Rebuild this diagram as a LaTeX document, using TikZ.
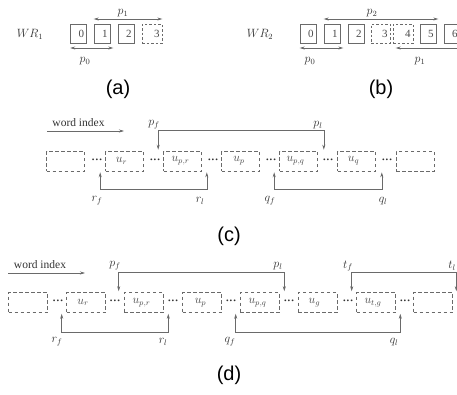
\documentclass[tikz,border=0pt]{standalone}
\usepackage{fontspec}
\setmainfont{Liberation Serif}
\newfontfamily\capfont{Liberation Sans}
\usetikzlibrary{arrows.meta}
\definecolor{lc}{HTML}{6A6A6A}
\definecolor{tc}{HTML}{333333}
\definecolor{bt}{HTML}{4A4A4A}
\newcommand{\mydots}{{\bfseries\char"00B7\char"00B7\char"00B7}}
\tikzset{
  lin/.style={draw=lc, line width=0.6pt},
  darr/.style={lin, {Stealth[length=5pt,width=3pt]}-{Stealth[length=5pt,width=3pt]}},
  sarr/.style={lin, -{Stealth[length=5pt,width=3pt]}},
  nbox/.style={draw=lc, line width=0.6pt, minimum height=19pt, text width=11pt, align=right,
    inner xsep=2.5pt, inner ysep=0pt, text=bt, font=\fontsize{11}{12}\selectfont},
  dnbox/.style={nbox, dash pattern=on 2.5pt off 2pt},
  ubox/.style={draw=lc, line width=0.6pt, dash pattern=on 3.5pt off 2.5pt, minimum width=38pt,
    minimum height=20pt, inner sep=0pt, text=bt, font=\fontsize{12}{13}\selectfont},
  dotstxt/.style={inner sep=0pt, text=tc, font=\fontsize{11}{12}\selectfont},
  lbl/.style={inner sep=0pt, text=tc, font=\fontsize{12}{13}\selectfont},
  wtxt/.style={inner sep=0pt, text=tc, font=\fontsize{11.5}{13}\selectfont},
  captxt/.style={inner sep=0pt, text=black, font=\capfont\fontsize{20}{22}\selectfont}
}
\begin{document}
\begin{tikzpicture}[x=1pt,y=-1pt]
\clip (0,0) rectangle (457,394);
\fill[white] (0,0) rectangle (457,394);

% ---------------- (a)
\node[lbl] (wr1) at (30,34) {$WR_1$};
\node[nbox] (a0) at (78.5,33.5) {0};
\node[nbox] (a1) at (102,33.5) {1};
\node[nbox] (a2) at (126,33.5) {2};
\node[dnbox,text width=15pt] (a3) at (152,33.5) {3};
\draw[darr] (a1.west |- 0,19) -- (a3.east |- 0,19);
\draw[darr] (a0.west |- 0,48) -- ([xshift=3pt]a1.east |- 0,48);
\node[lbl] (ap1) at (123,13) {$p_1$};
\node[lbl] (ap0) at (85,61) {$p_0$};
\node[captxt] (capa) at (118,89) {(a)};

% ---------------- (b)
\node[lbl] (wr2) at (260,34) {$WR_2$};
\node[nbox] (b0) at (308,33.5) {0};
\node[nbox] (b1) at (332,33.5) {1};
\node[nbox] (b2) at (356,33.5) {2};
\node[dnbox,text width=14pt] (b3) at (380.5,33.5) {3};
\node[dnbox,text width=15pt] (b4) at (403,33.5) {4};
\node[nbox] (b5) at (428,33.5) {5};
\node[nbox] (b6) at (452,33.5) {6};
\draw[darr] (b1.west |- 0,19) -- ([xshift=2pt]b5.east |- 0,19);
\draw[darr] (b0.west |- 0,48) -- ([xshift=3pt]b1.east |- 0,48);
\draw[darr] ([xshift=3pt]b4.west |- 0,48) -- ([xshift=8pt]b6.east |- 0,48);
\node[lbl] (bp2) at (372,13) {$p_2$};
\node[lbl] (bp0) at (310,61) {$p_0$};
\node[lbl] (bp1) at (420,61) {$p_1$};
\node[captxt] (capb) at (381,89) {(b)};

% ---------------- (c)
\node[wtxt] (cwi) at (78.5,123) {word index};
\coordinate (cwa) at (47,131);
\coordinate (cwb) at (124,131);
\draw[sarr] (cwa) -- (cwb);
\node[ubox] (c1) at (65.5,161) {};
\node[ubox] (c2) at (124.5,161) {\hspace*{-6pt}$u_r$};
\node[ubox] (c3) at (182.5,161) {\hspace*{-4pt}$u_{p,r}$};
\node[ubox] (c4) at (240.5,161) {\hspace*{-3pt}$u_p$};
\node[ubox] (c5) at (298.5,161) {\hspace*{-6pt}$u_{p,q}$};
\node[ubox] (c6) at (356.5,161) {\hspace*{-6pt}$u_q$};
\node[ubox] (c7) at (415,161) {};
\foreach \x/\n in {97/1,155/2,213/3,271/4,328/5,387/6}
  \node[dotstxt] (cd\n) at (\x,161) {\mydots};
\draw[darr, shorten <=1pt, shorten >=1pt] ([xshift=-5pt]c3.north west) -- ++(0,-20) -| ([xshift=6pt]c5.north east);
\draw[darr, shorten <=1pt, shorten >=1pt] ([xshift=-5pt]c2.south west) -- ++(0,18) -| ([xshift=5pt]c3.south east);
\draw[darr, shorten <=1pt, shorten >=1pt] ([xshift=-5pt]c5.south west) -- ++(0,18) -| ([xshift=6pt]c6.south east);
\node[lbl] (cpf) at (154,125) {$p_f$};
\node[lbl] (cpl) at (318,125) {$p_l$};
\node[lbl] (crf) at (97,201) {$r_f$};
\node[lbl] (crl) at (200,201) {$r_l$};
\node[lbl] (cqf) at (270,201) {$q_f$};
\node[lbl] (cql) at (383,201) {$q_l$};
\node[captxt] (capc) at (229,236) {(c)};

% ---------------- (d)
\node[wtxt] (dwi) at (40,265) {word index};
\coordinate (dwa) at (8,273);
\coordinate (dwb) at (85,273);
\draw[sarr] (dwa) -- (dwb);
\node[ubox,minimum width=39pt] (d1) at (28,302.5) {};
\node[ubox,minimum width=39pt] (d2) at (86,302.5) {\hspace*{-6pt}$u_r$};
\node[ubox,minimum width=39pt] (d3) at (143.5,302.5) {\hspace*{-4pt}$u_{p,r}$};
\node[ubox,minimum width=39pt] (d4) at (202,302.5) {\hspace*{-3pt}$u_p$};
\node[ubox,minimum width=39pt] (d5) at (259.5,302.5) {\hspace*{-4pt}$u_{p,q}$};
\node[ubox,minimum width=39pt] (d6) at (317.5,302.5) {\hspace*{-6pt}$u_g$};
\node[ubox,minimum width=39pt] (d7) at (376,302.5) {\hspace*{-6pt}$u_{t,g}$};
\node[ubox,minimum width=39pt] (d8) at (433,302.5) {};
\foreach \x/\n in {58/1,115/2,173/3,231/4,289/5,348/6,405/7}
  \node[dotstxt] (dd\n) at (\x,302.5) {\mydots};
\draw[darr, shorten <=1pt, shorten >=1pt] ([xshift=-5pt]d3.north west) -- ++(0,-20) -| ([xshift=5pt]d5.north east);
\draw[darr, shorten <=1pt, shorten >=1pt] ([xshift=-4.5pt]d7.north west) -- ++(0,-20) -| ([xshift=3.5pt]d8.north east);
\draw[darr, shorten <=1pt, shorten >=1pt] ([xshift=-4.5pt]d2.south west) -- ++(0,19) -| ([xshift=5pt]d3.south east);
\draw[darr, shorten <=1pt, shorten >=1pt] ([xshift=-4pt]d5.south west) -- ++(0,19) -| ([xshift=4.5pt]d7.south east);
\node[lbl] (dpf) at (115,266) {$p_f$};
\node[lbl] (dpl) at (278,266) {$p_l$};
\node[lbl] (dtf) at (348,266) {$t_f$};
\node[lbl] (dtl) at (452,266) {$t_l$};
\node[lbl] (drf) at (57,342) {$r_f$};
\node[lbl] (drl) at (163,342) {$r_l$};
\node[lbl] (dqf) at (230,342) {$q_f$};
\node[lbl] (dql) at (394,342) {$q_l$};
\node[captxt] (capd) at (229,375) {(d)};
\end{tikzpicture}
\end{document}
